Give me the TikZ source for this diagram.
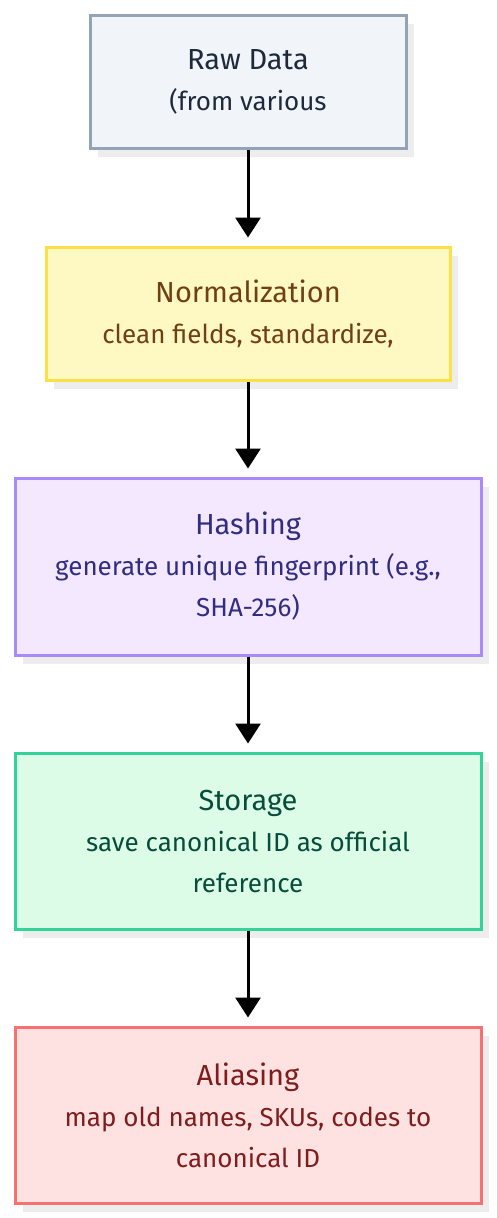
\documentclass[tikz,border=0pt]{standalone}
\usepackage{fontspec}
\setmainfont{Fira Sans}
\usetikzlibrary{arrows.meta,shadows}

\definecolor{rawfill}{HTML}{F1F5F9}\definecolor{rawline}{HTML}{94A3B8}\definecolor{rawtext}{HTML}{1E293B}
\definecolor{normfill}{HTML}{FEF9C3}\definecolor{normline}{HTML}{FDE047}\definecolor{normtext}{HTML}{713F12}
\definecolor{hashfill}{HTML}{F3E8FF}\definecolor{hashline}{HTML}{A78BFA}\definecolor{hashtext}{HTML}{312E81}
\definecolor{storefill}{HTML}{DCFCE7}\definecolor{storeline}{HTML}{34D399}\definecolor{storetext}{HTML}{064E3B}
\definecolor{aliasfill}{HTML}{FEE2E2}\definecolor{aliasline}{HTML}{F87171}\definecolor{aliastext}{HTML}{7F1D1D}

\tikzset{
  stage/.style={draw, line width=3pt, align=center, inner sep=0pt,
    font=\fontsize{26pt}{41pt}\selectfont,
    drop shadow={shadow xshift=8pt, shadow yshift=-9pt, fill=black!7, opacity=1}},
  flow/.style={line width=3pt, -{Triangle[width=25pt,length=20pt]}, shorten >=8pt}
}
\newcommand{\heading}[1]{{\fontsize{29pt}{41pt}\selectfont #1}}

\begin{document}
\begin{tikzpicture}[x=1pt,y=-1pt]
    \useasboundingbox (0,0) rectangle (496,1218);

    % Verarbeitungsschritte
    \node[stage, fill=rawfill, draw=rawline, text=rawtext, minimum width=316pt, minimum height=133pt]
        (raw) at (248,81.5) {\heading{Raw Data}\\(from various};
    \node[stage, fill=normfill, draw=normline, text=normtext, minimum width=404pt, minimum height=133pt]
        (norm) at (248,313.5) {\heading{Normalization}\\clean fields, standardize,};
    \node[stage, fill=hashfill, draw=hashline, text=hashtext, minimum width=466pt, minimum height=177pt]
        (hash) at (248,566.5) {\heading{Hashing}\\generate unique fingerprint (e.g.,\\SHA-256)};
    \node[stage, fill=storefill, draw=storeline, text=storetext, minimum width=466pt, minimum height=176pt]
        (store) at (248,841) {\heading{Storage}\\save canonical ID as official\\reference};
    \node[stage, fill=aliasfill, draw=aliasline, text=aliastext, minimum width=466pt, minimum height=176pt]
        (alias) at (248,1115) {\heading{Aliasing}\\map old names, SKUs, codes to\\canonical ID};

    % Pfeile
    \draw[flow] (raw) -- (norm);
    \draw[flow] (norm) -- (hash);
    \draw[flow] (hash) -- (store);
    \draw[flow] (store) -- (alias);
\end{tikzpicture}
\end{document}
